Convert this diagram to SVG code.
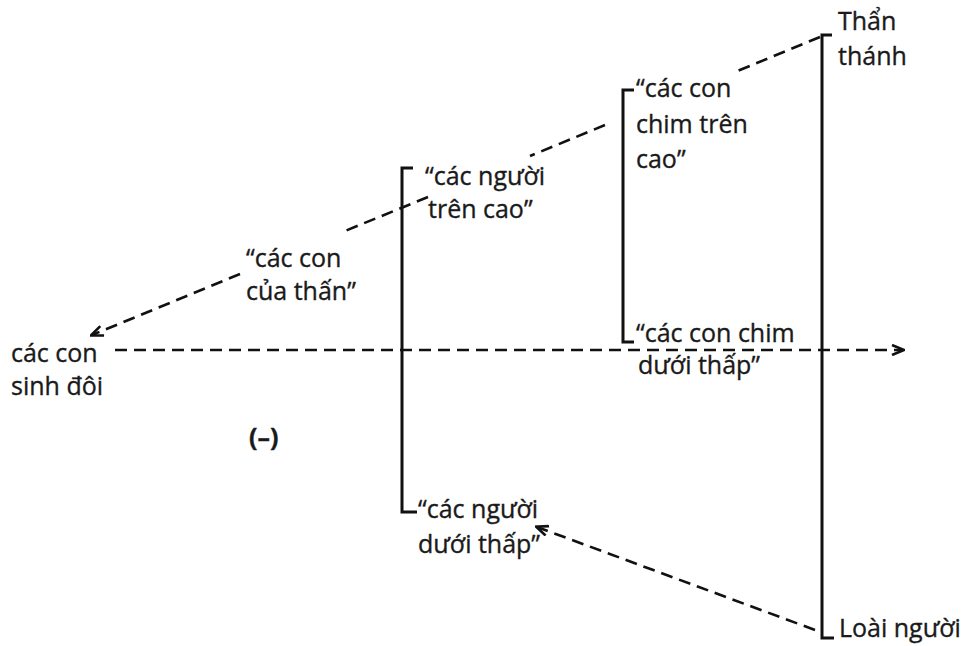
<svg xmlns="http://www.w3.org/2000/svg" width="964" height="646" viewBox="0 0 964 646">
<defs>
<marker id="ah" markerWidth="14" markerHeight="12" refX="12" refY="6" orient="auto" markerUnits="userSpaceOnUse">
<path d="M1,1 L13,6 L1,11" fill="none" stroke="#111" stroke-width="2.6"/>
</marker>
<style>
.t{font-family:"Open Sans","Noto Sans","DejaVu Sans",sans-serif;font-size:25px;fill:#1a1a1a;stroke:#1a1a1a;stroke-width:0.35}
.br{fill:none;stroke:#111;stroke-width:3}
.d{fill:none;stroke:#111;stroke-width:2.6;stroke-dasharray:12 7}
</style>
</defs>
<rect width="964" height="646" fill="#fff"/>
<g id="connectors">
<line class="d" x1="820" y1="37" x2="735" y2="72"/>
<line class="d" x1="605" y1="125" x2="530" y2="156"/>
<line class="d" x1="428" y1="197" x2="345" y2="231"/>
<line class="d" x1="240" y1="274" x2="92" y2="335" marker-end="url(#ah)"/>
<line class="d" x1="115" y1="350" x2="903" y2="350" stroke-dasharray="11 6" marker-end="url(#ah)"/>
<line class="d" x1="815" y1="630" x2="537" y2="527" marker-end="url(#ah)"/>
</g>
<g id="than-thanh">
<path class="br" d="M832,35 H822 V638 H834"/>
<text class="t" x="838" y="30">Thẩn</text>
<text class="t" x="838" y="65">thánh</text>
<text class="t" x="839" y="637">Loài người</text>
</g>
<g id="chim">
<path class="br" d="M634,90 H623 V342 H634"/>
<text class="t" x="636" y="97">“các con</text>
<text class="t" x="636" y="133">chim trên</text>
<text class="t" x="636" y="168">cao”</text>
<text class="t" x="636" y="342">“các con chim</text>
<text class="t" x="638" y="374">dưới thấp”</text>
</g>
<g id="nguoi">
<path class="br" d="M413,168 H402 V512 H417"/>
<text class="t" x="425" y="185">“các người</text>
<text class="t" x="428" y="218">trên cao”</text>
<text class="t" x="418" y="518">“các người</text>
<text class="t" x="418" y="553">dưới thấp”</text>
</g>
<g id="con-cua-than">
<text class="t" x="246" y="267">“các con</text>
<text class="t" x="246" y="300">của thấn”</text>
</g>
<g id="sinh-doi">
<text class="t" x="11" y="362">các con</text>
<text class="t" x="11" y="395">sinh đôi</text>
</g>
<g id="minus">
<text class="t" x="249" y="446" font-weight="bold" font-size="25">(–)</text>
</g>
</svg>
